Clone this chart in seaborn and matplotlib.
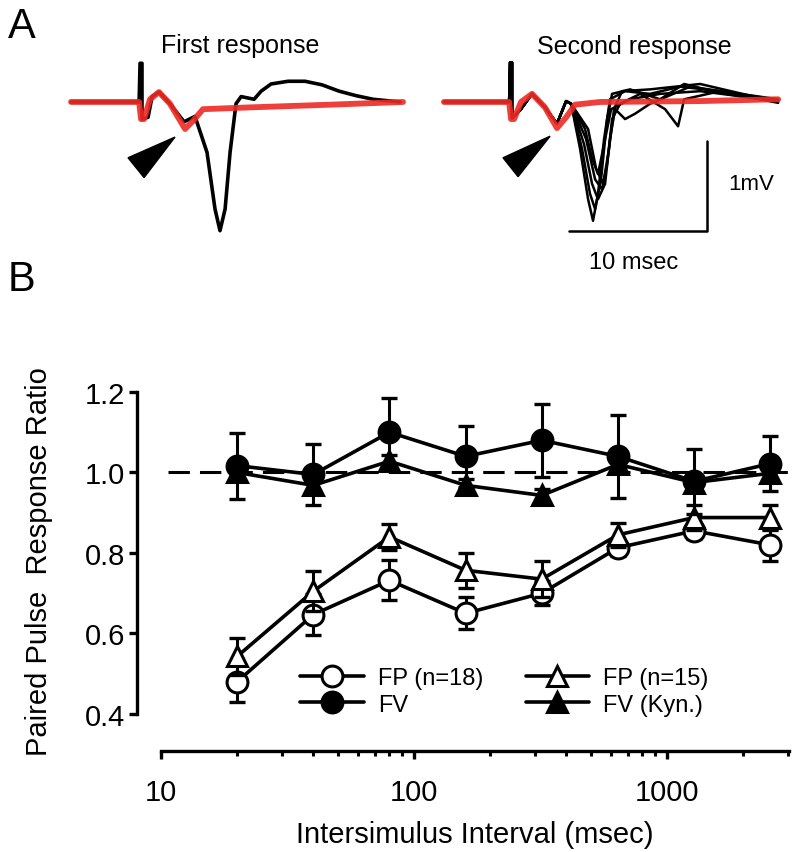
import matplotlib
matplotlib.use("Agg")
import matplotlib.pyplot as plt
import seaborn as sns
from matplotlib.ticker import FixedLocator, FixedFormatter, LogLocator, NullFormatter

# ------ PANEL B DATA ------
intervals = [20, 40, 80, 160, 320, 640, 1280, 2560]
fp18_mean = [0.48, 0.647, 0.732, 0.65, 0.70, 0.813, 0.855, 0.82]
fp18_err = [0.05, 0.05, 0.05, 0.04, 0.03, 0.02, 0.02, 0.04]
fp15_mean = [0.543, 0.705, 0.84, 0.757, 0.735, 0.845, 0.888, 0.888]
fp15_err = [0.047, 0.05, 0.033, 0.043, 0.045, 0.03, 0.03, 0.03]
fv_mean = [1.017, 0.995, 1.10, 1.04, 1.08, 1.04, 0.978, 1.022]
fv_err = [0.082, 0.075, 0.084, 0.075, 0.09, 0.104, 0.08, 0.068]
kyn_mean = [1.00, 0.968, 1.028, 0.968, 0.943, 1.02, 0.975, 0.998]
kyn_err = [0.015, 0.015, 0.015, 0.015, 0.015, 0.015, 0.015, 0.015]

y_ticks = [0.4, 0.6, 0.8, 1.0, 1.2]
y_ticklabels = ["0.4", "0.6", "0.8", "1.0", "1.2"]
x_ticks = [10, 100, 1000]
x_ticklabels = ["10", "100", "1000"]

# ------ PANEL A DATA (time in msec from stimulus, voltage in mV) ------
first_black_t = [-5.07, -0.14, -0.07, 0.07, 0.07, 0.51, 0.80, 1.30, 2.10, 3.12, 3.91, 4.78, 5.36,
                 5.72, 6.09, 6.45, 6.88, 7.25, 8.19, 8.70, 9.42, 10.65, 11.88, 13.12, 14.35,
                 15.58, 16.81, 18.77]
first_black_v = [0, 0, 0.43, 0.43, -0.19, -0.17, 0.06, 0.11, -0.02, -0.22, -0.16, -0.56, -1.19,
                 -1.43, -1.19, -0.56, -0.02, 0.06, 0.03, 0.12, 0.20, 0.23, 0.23, 0.19, 0.12,
                 0.07, 0.03, 0]
first_red_t = [-5.07, -0.14, 0.0, 0.22, 0.65, 1.30, 2.10, 3.19, 3.77, 4.49, 7.90, 13.7, 18.98]
first_red_v = [0, 0, -0.19, -0.19, 0.03, 0.11, -0.02, -0.30, -0.21, -0.08, -0.06, -0.03, 0]

second_pre_t = [-4.86, -0.14, -0.07, 0.07, 0.07, 0.36, 0.72, 1.52, 2.46, 3.33, 3.99, 4.35]
second_pre_v = [0, 0, 0.44, 0.44, -0.18, -0.14, -0.08, 0.09, -0.06, -0.24, 0.01, -0.02]

second_tails = [
    ([5.0, 5.58, 5.94, 6.30, 6.74, 7.17, 8.26, 10.07, 12.25, 15.14, 19.35],
     [-0.52, -1.08, -1.32, -1.02, -0.41, 0.03, 0.12, 0.09, 0.17, 0.12, 0.01]),
    ([5.14, 5.72, 6.09, 6.52, 6.96, 7.32, 8.62, 10.80, 12.54, 15.14, 19.35],
     [-0.52, -1.02, -1.19, -0.86, -0.19, 0.09, 0.14, 0.03, 0.20, 0.10, 0]),
    ([5.29, 5.87, 6.30, 6.81, 7.17, 7.54, 8.26, 8.99, 10.07, 12.97, 16.59, 19.35],
     [-0.47, -0.91, -1.08, -0.91, -0.41, -0.08, -0.19, -0.13, -0.02, 0.17, 0.09, 0.03]),
    ([5.43, 6.09, 6.59, 6.96, 7.32, 7.90, 9.35, 11.16, 12.10, 12.54, 15.14, 19.35],
     [-0.41, -0.86, -0.97, -0.69, -0.19, -0.02, 0.09, -0.08, -0.27, 0.03, 0.12, -0.01]),
    ([5.58, 6.16, 6.67, 7.10, 7.46, 8.04, 10.07, 13.70, 17.32, 19.35],
     [-0.30, -0.74, -0.91, -0.52, -0.08, 0.12, 0.14, 0.20, 0.07, 0.02]),
    ([5.36, 5.87, 6.30, 6.74, 7.25, 8.62, 10.80, 13.70, 19.35],
     [-0.30, -0.63, -0.80, -0.47, -0.08, 0.03, 0.09, 0.12, 0.01]),
]
second_red_t = [-4.86, -0.14, 0.0, 0.22, 0.72, 1.52, 2.46, 3.33, 3.99, 4.64, 6.45, 13.70, 19.35]
second_red_v = [0, 0, -0.19, -0.19, 0, 0.09, -0.06, -0.29, -0.17, -0.03, 0, 0.01, 0.03]

arrow1_t = [-0.94, 2.46, 0.22]
arrow1_v = [-0.62, -0.39, -0.84]
arrow2_t = [-0.58, 2.83, 0.51]
arrow2_v = [-0.62, -0.38, -0.83]

# ------ STYLE ------
sns.set_style("ticks")
plt.rcParams["font.family"] = ["Liberation Sans", "DejaVu Sans"]
plt.rcParams["axes.linewidth"] = 2.4
for key in ["text.color", "axes.labelcolor", "xtick.color", "ytick.color", "axes.edgecolor"]:
    plt.rcParams[key] = "black"

RED = "#ee2a24"

fig = plt.figure(figsize=(7.93, 8.53), dpi=100)

# ------ PANEL A ------
ax1 = fig.add_axes([0.0821, 0.6735, 0.4439, 0.2902])
ax2 = fig.add_axes([0.5487, 0.6735, 0.4439, 0.2902])
for ax in (ax1, ax2):
    ax.set_xlim(-5.5, 20)
    ax.set_ylim(-1.95, 0.8)
    ax.axis("off")

ax1.plot(first_black_t, first_black_v, color="black", lw=2.6)
ax1.plot(first_red_t, first_red_v, color=RED, lw=4.2, alpha=0.9)
ax1.fill(arrow1_t, arrow1_v, color="black")
ax1.text(7.17, 0.63, "First response", ha="center", va="center", fontsize=18)

for tail_t, tail_v in second_tails:
    ax2.plot(second_pre_t + tail_t, second_pre_v + tail_v, color="black", lw=1.8)
ax2.plot(second_red_t, second_red_v, color=RED, lw=4.2, alpha=0.9)
ax2.fill(arrow2_t, arrow2_v, color="black")
ax2.text(8.9, 0.62, "Second response", ha="center", va="center", fontsize=18)

# scale bar
ax2.plot([4.2, 14.2, 14.2], [-1.43, -1.43, -0.43], color="black", lw=1.8)
ax2.text(17.4, -0.91, "1mV", ha="center", va="center", fontsize=16)
ax2.text(8.9, -1.78, "10 msec", ha="center", va="center", fontsize=17)

fig.text(0.027, 0.968, "A", fontsize=30, ha="center", va="center")
fig.text(0.027, 0.672, "B", fontsize=30, ha="center", va="center")

# ------ PANEL B ------
axb = fig.add_axes([0.2030, 0.1618, 0.7919, 0.3775])
axb.set_xscale("log")

axb.axhline(1.0, xmin=0.011, xmax=1.0, color="black", lw=2.2, dashes=(7, 3.3), zorder=1)

series = [
    ("FP (n=18)", fp18_mean, fp18_err, "o", "white"),
    ("FP (n=15)", fp15_mean, fp15_err, "^", "white"),
    ("FV", fv_mean, fv_err, "o", "black"),
    ("FV (Kyn.)", kyn_mean, kyn_err, "^", "black"),
]
for i, (name, mean, err, mk, fc) in enumerate(series):
    axb.errorbar(intervals, mean, yerr=err, fmt="none", ecolor="black",
                 elinewidth=2.2, capsize=5.5, capthick=2.4, zorder=2 + i)
    sns.lineplot(x=intervals, y=mean, ax=axb, color="black", lw=2.6, marker=mk,
                 ms=15, mfc=fc, mec="black", mew=2.2, label=name, errorbar=None,
                 zorder=3 + i)

axb.set_xlim(10, 3034)
axb.set_ylim(0.4, 1.2)

sns.despine(ax=axb)
axb.spines["left"].set_position(("outward", 17))
axb.spines["bottom"].set_position(("outward", 27))
axb.spines["left"].set_bounds(0.4, 1.2)

axb.yaxis.set_major_locator(FixedLocator(y_ticks))
axb.yaxis.set_major_formatter(FixedFormatter(y_ticklabels))
axb.xaxis.set_major_locator(FixedLocator(x_ticks))
axb.xaxis.set_major_formatter(FixedFormatter(x_ticklabels))
axb.xaxis.set_minor_locator(LogLocator(base=10, subs=range(2, 10)))
axb.xaxis.set_minor_formatter(NullFormatter())

axb.tick_params(axis="both", which="major", width=2.4, length=6, labelsize=21)
axb.tick_params(axis="x", which="major", pad=13)
axb.tick_params(axis="y", which="major", pad=3)
axb.tick_params(axis="x", which="minor", width=2.2, length=3.5)

axb.set_xlabel("Intersimulus Interval (msec)", fontsize=21)
axb.set_ylabel("Paired Pulse  Response Ratio", fontsize=21)
axb.xaxis.set_label_coords(0.5, -0.33)
axb.yaxis.set_label_coords(-0.172, 0.478)

handles, labels = axb.get_legend_handles_labels()
order = [0, 2, 1, 3]
axb.legend([handles[i] for i in order], [labels[i] for i in order], ncol=2,
           frameon=False, loc="upper left", bbox_to_anchor=(0.221, 0.146),
           fontsize=17, handlelength=2.7, handletextpad=0.6, columnspacing=1.8,
           labelspacing=0.2, borderpad=0, borderaxespad=0)

plt.savefig("out.png", dpi=100)
